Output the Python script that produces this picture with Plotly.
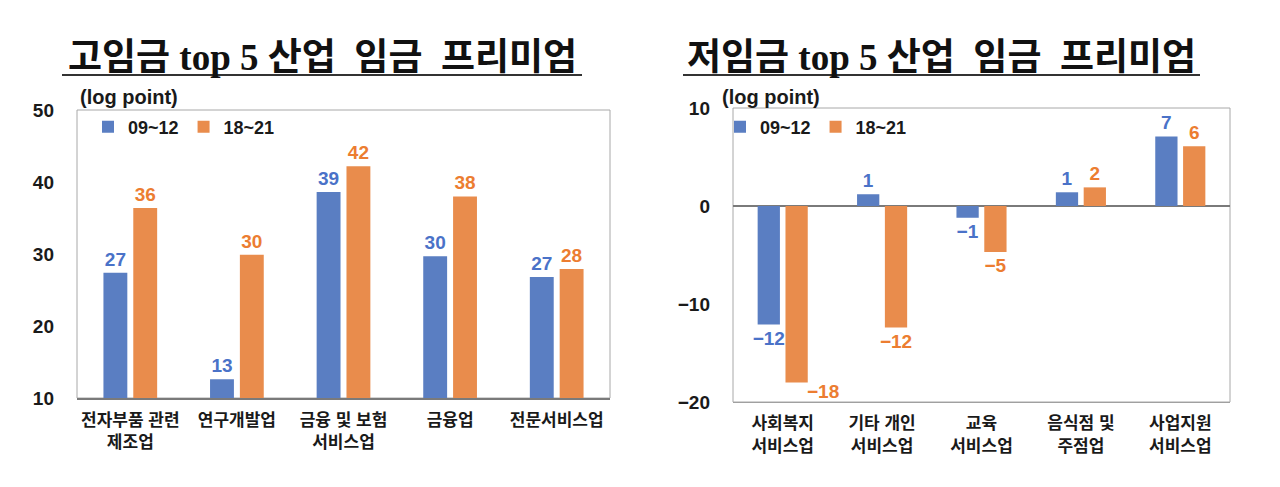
import plotly.graph_objects as go
from plotly.subplots import make_subplots

# ---- data ----
high_categories = ["전자부품 관련<br>제조업", "연구개발업", "금융 및 보험<br>서비스업", "금융업", "전문서비스업"]
high_0912 = [27.4, 12.6, 38.6, 29.7, 26.8]
high_1821 = [36.4, 29.9, 42.2, 38.0, 27.9]

low_categories = ["사회복지<br>서비스업", "기타 개인<br>서비스업", "교육<br>서비스업", "음식점 및<br>주점업", "사업지원<br>서비스업"]
low_0912 = [-12.1, 1.2, -1.2, 1.4, 7.1]
low_1821 = [-18.0, -12.4, -4.7, 1.9, 6.1]

series_names = ["09~12", "18~21"]
high_ticks = [10, 20, 30, 40, 50]
low_ticks = [-20, -10, 0, 10]

title_left = "고임금 top 5 산업\u00a0\u00a0임금\u00a0\u00a0프리미엄"
title_right = "저임금 top 5 산업\u00a0\u00a0임금\u00a0\u00a0프리미엄"
unit_label = "(log point)"

# ---- style ----
W, H = 1280, 487
OFF = 8  # page body margin offset
BLUE = "#5A7EC2"
ORANGE = "#E98C4C"
BLUE_TXT = "#4A72C8"
ORANGE_TXT = "#EC7D31"
SANS = "Liberation Sans, Noto Sans CJK KR, sans-serif"
SERIF = "Liberation Serif, Noto Sans CJK KR, serif"
TXT = "#1a1a1a"


def px(x):
    return (x - OFF) / W


def py(y):
    return 1 - (y - OFF) / H


def fmt(vals):
    return [f"{round(v):d}".replace("-", "\u2212") for v in vals]


fig = make_subplots(rows=1, cols=2)

LBL = 19
low_1821_text = fmt(low_1821)
moved_label = low_1821_text[0]
low_1821_text[0] = ""  # this label is placed beside the bar end (see annotation below)

for cats, vals, txt, name, col, tcol, leg, c in (
    (high_categories, high_0912, fmt(high_0912), series_names[0], BLUE, BLUE_TXT, "legend", 1),
    (high_categories, high_1821, fmt(high_1821), series_names[1], ORANGE, ORANGE_TXT, "legend", 1),
    (low_categories, low_0912, fmt(low_0912), series_names[0], BLUE, BLUE_TXT, "legend2", 2),
    (low_categories, low_1821, low_1821_text, series_names[1], ORANGE, ORANGE_TXT, "legend2", 2),
):
    fig.add_trace(go.Bar(x=cats, y=vals, name=name, marker_color=col,
                         text=txt, textposition="outside",
                         textfont=dict(color=tcol, size=LBL, family=SANS, weight="bold"),
                         cliponaxis=False, legend=leg), row=1, col=c)

fig.update_traces(marker_line_width=0, constraintext="none")

tickx = dict(size=17, family=SANS, weight="bold", color=TXT)
ticky = dict(size=19, family=SANS, weight="bold", color=TXT)
legfont = dict(size=18, family=SANS, weight="bold", color=TXT)

fig.update_layout(
    width=W, height=H,
    margin=dict(l=0, r=0, t=0, b=0),
    paper_bgcolor="white", plot_bgcolor="white",
    barmode="group", bargap=0.44, bargroupgap=0.2,
    font=dict(family=SANS, color=TXT),
    xaxis=dict(domain=[px(77), px(610)], showgrid=False, showline=True, linecolor="#7a7a7a",
               linewidth=1.5, ticks="", ticklabelstandoff=6, tickfont=tickx, automargin=False),
    yaxis=dict(domain=[py(398), py(110)], range=[10, 50], tickvals=high_ticks,
               showgrid=False, zeroline=False, showline=False, ticklabelstandoff=22,
               tickfont=ticky, automargin=False),
    xaxis2=dict(domain=[px(733), px(1230)], showgrid=False, showline=True, linecolor="#a0a0a0",
                linewidth=1, ticks="", ticklabelstandoff=6, tickfont=tickx, automargin=False),
    yaxis2=dict(domain=[py(402), py(108)], range=[-20, 10], tickvals=low_ticks,
                showgrid=False, zeroline=True, zerolinecolor="#7a7a7a", zerolinewidth=1.5,
                showline=False, ticklabelstandoff=22, tickfont=ticky, automargin=False),
    legend=dict(orientation="h", x=px(88), y=py(127), xanchor="left", yanchor="middle",
                bgcolor="rgba(0,0,0,0)", font=legfont, itemwidth=30, tracegroupgap=0),
    legend2=dict(orientation="h", x=px(720), y=py(127), xanchor="left", yanchor="middle",
                 bgcolor="rgba(0,0,0,0)", font=legfont, itemwidth=30, tracegroupgap=0),
    showlegend=True,
)

# label of the deepest bar, set beside its end
fig.add_annotation(text=f"<b>{moved_label}</b>", xref="x2", yref="y2",
                   x=low_categories[0], y=low_1821[0], xshift=40, yshift=-9,
                   showarrow=False, xanchor="center", yanchor="middle",
                   font=dict(size=LBL, family=SANS, color=ORANGE_TXT))

# plot-area frames
for xr, yr in (("x domain", "y domain"), ("x2 domain", "y2 domain")):
    fig.add_shape(type="rect", xref=xr, yref=yr, x0=0, x1=1, y0=0, y1=1,
                  line=dict(color="#a8a8a8", width=1), layer="below")

# titles with underline
for cx, x0, x1, t in ((322, 62, 582, title_left), (941, 683, 1200, title_right)):
    fig.add_annotation(text=f"<b>{t}</b>", xref="paper", yref="paper", x=px(cx), y=py(58),
                       showarrow=False, xanchor="center", yanchor="middle",
                       font=dict(size=37, family=SERIF, color="#111"))
    fig.add_shape(type="line", xref="paper", yref="paper", x0=px(x0), x1=px(x1),
                  y0=py(75), y1=py(75), line=dict(color="#333", width=2))

for lx in (78, 720):
    fig.add_annotation(text=f"<b>{unit_label}</b>", xref="paper", yref="paper", x=px(lx), y=py(97),
                       showarrow=False, xanchor="left", yanchor="middle",
                       font=dict(size=20, family=SANS, color=TXT))

fig.write_html("out.html")
